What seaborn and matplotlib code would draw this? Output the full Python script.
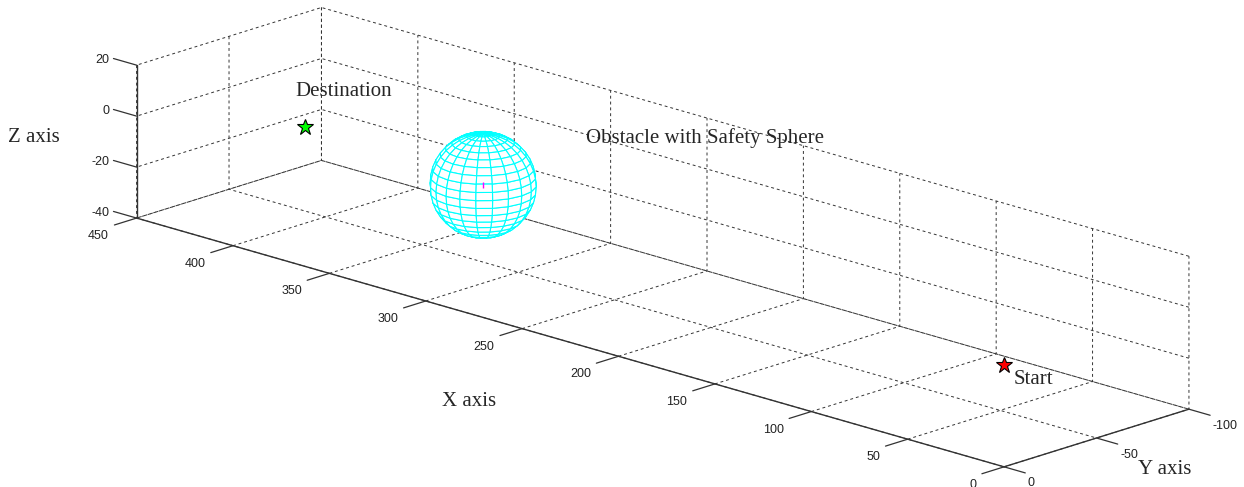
import numpy as np
import matplotlib
matplotlib.use("Agg")
import matplotlib.pyplot as plt
import seaborn as sns

# ---- data ----
start_point = [0, 0, 0]
destination_point = [395, -34, 0]
obstacle_center = [299, -30, -1]
obstacle_radius = 20
x_ticks = [0, 50, 100, 150, 200, 250, 300, 350, 400, 450]
y_ticks = [-100, -50, 0]
z_ticks = [-40, -20, 0, 20]
x_lim = [0, 450]
y_lim = [-100, 0]
z_lim = [-40, 20]

sns.set_theme(style="white")
plt.rcParams["font.family"] = ["Liberation Sans", "DejaVu Sans"]
plt.rcParams["axes.unicode_minus"] = False
plt.rcParams["grid.linestyle"] = (0, (3, 3))
plt.rcParams["grid.color"] = "#333333"
plt.rcParams["grid.linewidth"] = 0.7

W, H = 1244, 487
fig = plt.figure(figsize=(W / 100, H / 100), dpi=100)
hh = W / H  # make the 3D axes box square in pixels so nothing is clipped
ax = fig.add_axes([0.0281 - 11 / W, (1 - hh) / 2 - 0.002 - 9.5 / H, 1, hh], projection="3d")
ax.computed_zorder = False
ax.set_proj_type("ortho")
ax.view_init(elev=17.4, azim=133.8)
ax.set_box_aspect((450, 100, 60), zoom=2.475 / hh)

# obstacle sphere (opaque mesh with cyan edges)
n = 20
u = np.linspace(0, 2 * np.pi, n + 1)
v = np.linspace(0, np.pi, n + 1)
sx = obstacle_center[0] + obstacle_radius * np.outer(np.cos(u), np.sin(v))
sy = obstacle_center[1] + obstacle_radius * np.outer(np.sin(u), np.sin(v))
sz = obstacle_center[2] + obstacle_radius * np.outer(np.ones_like(u), np.cos(v))
ax.plot_surface(sx, sy, sz, color="white", edgecolor="cyan", linewidth=0.8,
                shade=False, rstride=1, cstride=1, zorder=3)
ax.plot([obstacle_center[0]], [obstacle_center[1]], [obstacle_center[2]],
        marker="|", color="magenta", markersize=5, linestyle="none", zorder=4)

ax.plot([start_point[0]], [start_point[1]], [start_point[2]], marker="*",
        markersize=12, markerfacecolor="red", markeredgecolor="black",
        markeredgewidth=0.8, linestyle="none", zorder=5)
ax.plot([destination_point[0]], [destination_point[1]], [destination_point[2]], marker="*",
        markersize=12, markerfacecolor="#00ff00", markeredgecolor="black",
        markeredgewidth=0.8, linestyle="none", zorder=5)

serif = ["Liberation Serif", "DejaVu Serif"]
ax.text(-5, 0, -4.5, "Start", family=serif, fontsize=15, va="center", ha="left", zorder=6)
ax.text(400, -34, 13, "Destination", family=serif, fontsize=15, va="center", ha="left", zorder=6)
ax.text(311, -98, -0.8, "Obstacle with Safety Sphere", family=serif, fontsize=15,
        va="center", ha="left", zorder=6)

# MATLAB-style tick marks and tick labels, placed in data coordinates
tick_col = "#333333"
lab_col = "#222222"
for xv in x_ticks:
    ax.plot([xv, xv], [y_lim[1], y_lim[1] + 12], [z_lim[0], z_lim[0]], color=tick_col, lw=0.9)
    ax.text(xv, y_lim[1] + 14.9, z_lim[0] - 3.7, str(xv), fontsize=9, color=lab_col,
            ha="right", va="center")
for yv in y_ticks:
    ax.plot([x_lim[0], x_lim[0] - 11], [yv, yv], [z_lim[0], z_lim[0]], color=tick_col, lw=0.9)
    ax.text(x_lim[0] - 12.4, yv, z_lim[0] - 3.8, str(yv), fontsize=9, color=lab_col,
            ha="left", va="center")
for zv in z_ticks:
    ax.plot([x_lim[1], x_lim[1] + 12], [y_lim[1], y_lim[1]], [zv, zv], color=tick_col, lw=0.9)
    ax.text(x_lim[1] + 14, y_lim[1], zv - 1.2, str(zv), fontsize=9, color=lab_col,
            ha="right", va="center")

ax.set_xticks(x_ticks)
ax.set_yticks(y_ticks)
ax.set_zticks(z_ticks)
ax.set_xticklabels([])
ax.set_yticklabels([])
ax.set_zticklabels([])
ax.zaxis.set_ticks_position("upper")
ax.set_xlim(x_lim)
ax.set_ylim(y_lim)
ax.set_zlim(z_lim)

for axis in (ax.xaxis, ax.yaxis, ax.zaxis):
    axis.set_pane_color((1, 1, 1, 0))
    axis.pane.set_edgecolor((1, 1, 1, 0))
    axis.line.set_color("#333333")
    axis.line.set_linewidth(1.0)
    axis._axinfo["tick"]["inward_factor"] = 0.0
    axis._axinfo["tick"]["outward_factor"] = 0.0
    axis.set_tick_params(label1On=False, label2On=False)

fig.text(8 / W, 1 - 137 / H, "Z axis", family=serif, fontsize=15, va="center", ha="left")
fig.text(442 / W, 1 - 401 / H, "X axis", family=serif, fontsize=15, va="center", ha="left")
fig.text(1138 / W, 1 - 470 / H, "Y axis", family=serif, fontsize=15, va="center", ha="left")

fig.savefig("out.png", dpi=100)
